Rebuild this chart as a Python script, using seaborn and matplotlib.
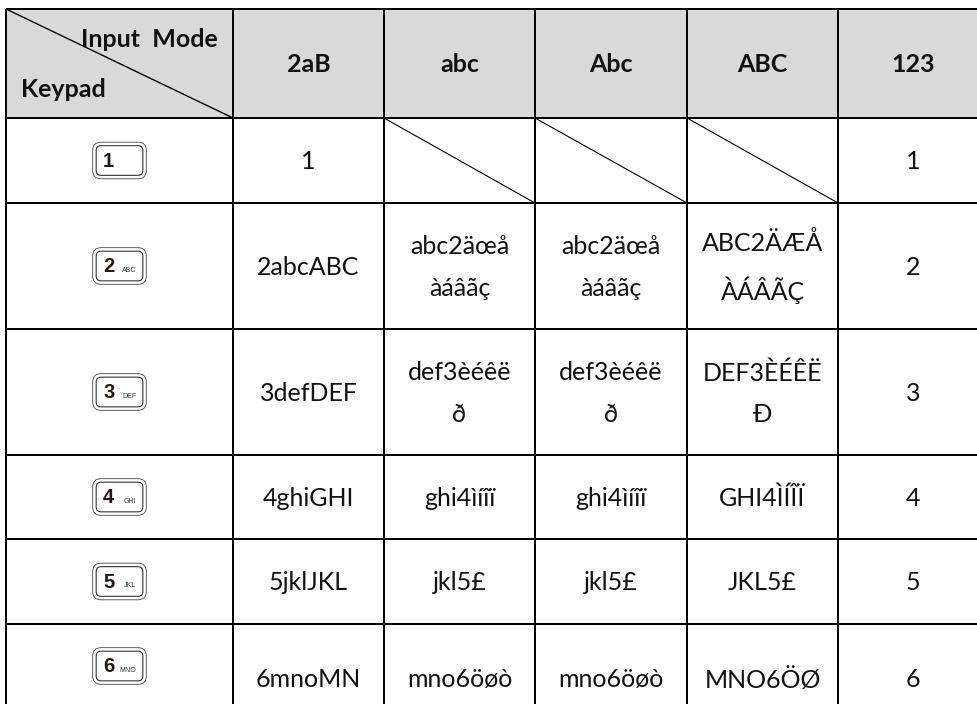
import numpy as np
import matplotlib
matplotlib.use('Agg')
import matplotlib.pyplot as plt
import seaborn as sns
from matplotlib.offsetbox import AnnotationBbox, DrawingArea
from matplotlib.patches import FancyBboxPatch
from matplotlib.text import Text

modes = ['2aB', 'abc', 'Abc', 'ABC', '123']
keys = ['1', '2', '3', '4', '5', '6']
key_letters = ['', 'ABC', 'DEF', 'GHI', 'JKL', 'MNO']
col_2ab = ['1', '2abcABC', '3defDEF', '4ghiGHI', '5jklJKL', '6mnoMN']
col_abc = ['', 'abc2äœå\nàáâãç', 'def3èéêë\nð', 'ghi4ìíîï', 'jkl5£', 'mno6öøò']
col_Abc = ['', 'abc2äœå\nàáâãç', 'def3èéêë\nð', 'ghi4ìíîï', 'jkl5£', 'mno6öøò']
col_ABC = ['', 'ABC2ÄÆÅ\nÀÁÂÃÇ', 'DEF3ÈÉÊË\nÐ', 'GHI4ÌÍÎÏ', 'JKL5£', 'MNO6ÖØ']
col_123 = ['1', '2', '3', '4', '5', '6']

# where the table lines sit in the picture, the last ones fall off the canvas
x_lines = [6, 233, 384, 535, 687, 838, 988]
y_lines = [9, 118, 203, 329, 455, 539, 624, 736]

W, H = 978, 704

sns.set_theme(style='white')
plt.rcParams['font.family'] = ['Lato', 'DejaVu Sans']

labels = [[''] + modes]
for i in range(len(keys)):
    labels.append(['', col_2ab[i], col_abc[i], col_Abc[i], col_ABC[i], col_123[i]])
labels = np.array(labels, dtype=object)

shade = np.zeros(labels.shape)
shade[0, :] = 1

fig = plt.figure(figsize=(W / 100, H / 100), dpi=100)
ax = fig.add_axes([x_lines[0] / W, (H - y_lines[-1]) / H,
                   (x_lines[-1] - x_lines[0]) / W, (y_lines[-1] - y_lines[0]) / H])

sns.heatmap(shade, annot=labels, fmt='', cmap=['white', '#d9d9d9'], cbar=False,
            linewidths=1.4, linecolor='black', xticklabels=False, yticklabels=False,
            annot_kws={'fontsize': 18, 'color': '#111111', 'linespacing': 1.95}, ax=ax)
ax.collections[0].set_clip_on(False)


# cell index -> pixel, so the cells can have different sizes
def pos_scale(lines):
    idx = np.arange(len(lines))
    return (lambda v: np.interp(v, idx, lines), lambda v: np.interp(v, lines, idx))


ax.set_xscale('function', functions=pos_scale(x_lines))
ax.set_yscale('function', functions=pos_scale(y_lines))
ax.set_xlim(0, 6)
ax.set_ylim(7, 0)
ax.set_xticks([])
ax.set_yticks([])
ax.minorticks_off()

for t in ax.texts:
    x, y = t.get_position()
    if y < 1:
        t.set_fontweight('bold')
    # rendered a little high against the reference
    t.set_y(y + (0.012 if y < 6 else 0))

# header cell
ax.plot([0, 1], [0, 1], color='black', lw=1, clip_on=False)
ax.text(0.934, 0.284, 'Input  Mode', ha='right', va='center', fontsize=18, fontweight='bold', color='#111111')
ax.text(0.066, 0.743, 'Keypad', ha='left', va='center', fontsize=18, fontweight='bold', color='#111111')

# no value cells
for c in [2, 3, 4]:
    ax.plot([c, c + 1], [1, 2], color='black', lw=0.8)

# keypad buttons
for i, k in enumerate(keys):
    w, h = 55 * 0.72, 38 * 0.72
    da = DrawingArea(w, h, 0, 0)
    da.add_artist(FancyBboxPatch((0.5, 0.5), w - 1, h - 1, boxstyle='round,pad=0,rounding_size=6',
                                 fc='white', ec='#444444', lw=0.6))
    da.add_artist(FancyBboxPatch((3, 3), w - 6, h - 6, boxstyle='round,pad=0,rounding_size=3.5',
                                 fc='white', ec='#333333', lw=0.8))
    da.add_artist(Text(8, h / 2 - 0.5, k, fontsize=14.5, fontweight='bold', color='#231815',
                       family='Liberation Sans', va='center', ha='left'))
    da.add_artist(Text(w - 7.5, h / 2 - 3, key_letters[i], fontsize=5, color='#333333',
                       family='Liberation Sans', va='center', ha='right'))
    # the last row runs off the canvas, its button sits higher than the cell middle
    shift = 14 if i == 5 else 0
    ax.add_artist(AnnotationBbox(da, (0.5, i + 1.5), xybox=(0, shift * 0.72), boxcoords='offset points',
                                 frameon=False, pad=0, box_alignment=(0.5, 0.5)))

fig.savefig('out.png', dpi=100)
